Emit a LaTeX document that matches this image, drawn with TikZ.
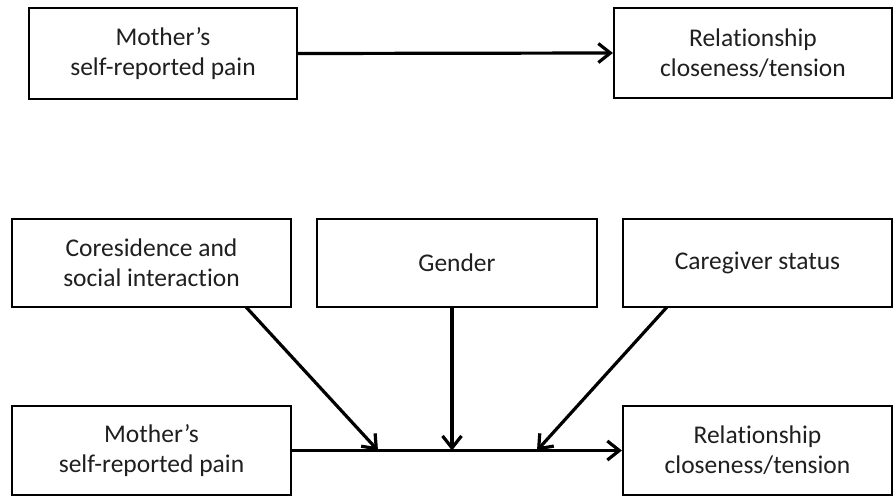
\documentclass[tikz,border=0pt]{standalone}
\usepackage{fontspec}
\setmainfont[Ligatures=NoCommon]{Carlito}
\usetikzlibrary{arrows.meta}
\begin{document}
\begin{tikzpicture}[x=1pt,y=-1pt,
  box/.style={draw, line width=2.2pt, align=center, inner sep=0pt,
    font=\fontsize{25.5}{30}\selectfont, text=black!88},
  arr/.style={line width=3.2pt, -{Straight Barb[length=12pt,width=19pt]}}]
\useasboundingbox (0,0) rectangle (894,496);
% top
\node[box, minimum width=268pt, minimum height=91pt] (tl) at (163,53.5) {Mother’s\\self-reported pain};
\node[box, minimum width=278pt, minimum height=90pt] (tr) at (753,53) {Relationship\\closeness/tension};
\draw[arr] (tl.east) -- (tr.west);
% bottom
\node[box, minimum width=279pt, minimum height=88pt] (cor) at (151.5,263) {Coresidence and\\social interaction};
\node[box, minimum width=280pt, minimum height=88pt] (gen) at (457,263) {Gender};
\node[box, minimum width=269pt, minimum height=88pt] (car) at (757.5,263) {Caregiver status};
\node[box, minimum width=279pt, minimum height=89pt] (bl) at (151.5,450.5) {Mother’s\\self-reported pain};
\node[box, minimum width=269pt, minimum height=89pt] (br) at (757.5,450.5) {Relationship\\closeness/tension};
\draw[arr] (bl.east) -- (br.west);
\coordinate (m1) at (378,450.5);
\coordinate (m2) at (452,450.5);
\coordinate (m3) at (537,450.5);
\coordinate (s1) at (246,307);
\coordinate (s2) at (452,307);
\coordinate (s3) at (667,307);
\draw[arr] (s1) -- (m1);
\draw[arr] (s2) -- (m2);
\draw[arr] (s3) -- (m3);
\end{tikzpicture}
\end{document}
